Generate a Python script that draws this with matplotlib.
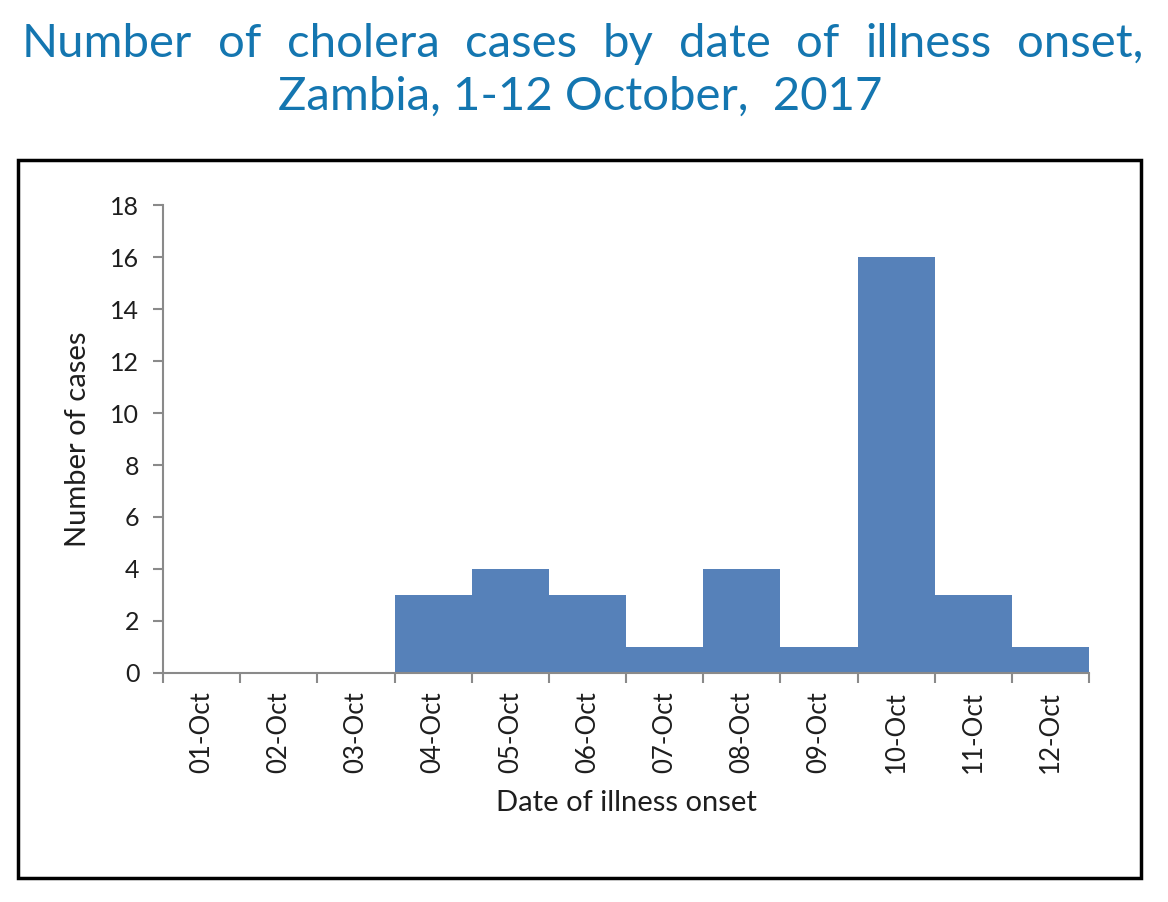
import matplotlib.pyplot as plt
from matplotlib.patches import Rectangle

dates = ['01-Oct', '02-Oct', '03-Oct', '04-Oct', '05-Oct', '06-Oct',
         '07-Oct', '08-Oct', '09-Oct', '10-Oct', '11-Oct', '12-Oct']
cases = [0, 0, 0, 3, 4, 3, 1, 4, 1, 16, 3, 1]
y_ticks = [0, 2, 4, 6, 8, 10, 12, 14, 16, 18]

title_line1 = 'Number of cholera cases by date of illness onset,'
title_line2 = 'Zambia, 1-12 October,  2017'

BAR_COLOR = '#5681b9'
TITLE_COLOR = '#1476b0'
AXIS_COLOR = '#8a8a8a'
TEXT_COLOR = '#1e1e1e'

plt.rcParams['font.family'] = ['Lato', 'DejaVu Sans']

fig = plt.figure(figsize=(11.68, 9.02), dpi=100)
ax = fig.add_axes([0.1396, 0.2539, 0.7928, 0.5188])

x = list(range(len(dates)))
ax.bar(x, cases, width=1.0, color=BAR_COLOR, linewidth=0)

ax.set_xlim(-0.5, len(dates) - 0.5)
ax.set_ylim(0, 18)
ax.set_yticks(y_ticks)
ax.set_yticklabels([str(v) for v in y_ticks], fontsize=18, color=TEXT_COLOR)

# category labels in the middle, tick marks at the boundaries
ax.set_xticks(x)
ax.set_xticklabels(dates, rotation=90, fontsize=18.5, color=TEXT_COLOR)
ax.tick_params(axis='x', which='major', length=0, pad=13)
ax.set_xticks([i - 0.5 for i in range(len(dates) + 1)], minor=True)
ax.tick_params(axis='x', which='minor', length=7, width=1.5, color=AXIS_COLOR, direction='out')
ax.tick_params(axis='y', length=7, width=1.5, color=AXIS_COLOR, direction='out', pad=10)

for side in ['top', 'right']:
    ax.spines[side].set_visible(False)
for side in ['left', 'bottom']:
    ax.spines[side].set_color(AXIS_COLOR)
    ax.spines[side].set_linewidth(1.5)

ax.set_ylabel('Number of cases', fontsize=21, color=TEXT_COLOR, labelpad=14)
ax.set_xlabel('Date of illness onset', fontsize=21, color=TEXT_COLOR, labelpad=12)

# outer frame round the chart
fig.patches.append(Rectangle((0.0154, 0.0266), 0.9615, 0.796, transform=fig.transFigure,
                             fill=False, edgecolor='black', linewidth=2.5))

# title, first line justified across the width
words = title_line1.split(' ')
left_px, right_px = 22, 1143
y1 = 1 - 57 / 902
texts = [fig.text(0, y1, w, fontsize=34, color=TITLE_COLOR, va='baseline', ha='left')
         for w in words]
fig.canvas.draw()
r = fig.canvas.get_renderer()
widths = [t.get_window_extent(r).width for t in texts]
gap = (right_px - left_px - sum(widths)) / (len(words) - 1)
pos = left_px
for t, w in zip(texts, widths):
    t.set_x(pos / 1168)
    pos += w + gap

fig.text(580 / 1168, 1 - 110 / 902, title_line2, fontsize=34, color=TITLE_COLOR,
         va='baseline', ha='center')

fig.savefig('out.png', dpi=100)
